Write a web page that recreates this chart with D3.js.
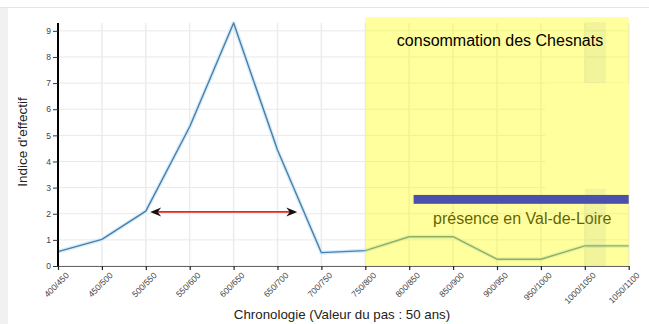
<!DOCTYPE html>
<html><head><meta charset="utf-8">
<script src="https://cdn.jsdelivr.net/npm/d3@7"></script>
<style>
body{margin:0;background:#fff;}
svg{display:block;font-family:"Liberation Sans",Arial,sans-serif;}
</style></head>
<body>
<svg id="chart" width="649" height="324"></svg>
<script>
const categories = ["400/450","450/500","500/550","550/600","600/650","650/700","700/750","750/800","800/850","850/900","900/950","950/1000","1000/1050","1050/1100"];
const values = [0.55,1.02,2.1,5.33,9.3,4.44,0.51,0.59,1.12,1.12,0.26,0.26,0.77,0.77];
const yTicks = [0,1,2,3,4,5,6,7,8,9];
const shadeCats = ["750/800","1050/1100"];           // consommation des Chesnats
const presenceIdx = [8.1, 13];                          // présence en Val-de-Loire (category index)
const presenceVal = [2.38, 2.72];
const arrowIdx = [2.1, 5.45];
const arrowVal = 2.07;
const patchIdx = [11.1, 13], patchVal = [2.72, 7.0];
const darkIdx = [12, 12.48];
const darkVals = [[7.0, 9.33], [0, 2.95]];
const titleText = "consommation des Chesnats";
const presenceText = "présence en Val-de-Loire";
const xLabel = "Chronologie (Valeur du pas : 50 ans)";
const yLabel = "Indice d'effectif";

const svg = d3.select("#chart");
const L = 58, R = 628.7, B = 266, T = 23;
const x = d3.scalePoint().domain(categories).range([L, R]);
const xi = d3.scaleLinear().domain([0, categories.length - 1]).range([L, R]);
const y = d3.scaleLinear().domain([0, d3.max(values)]).range([B, T]);

// page decoration
svg.append("rect").attr("x",0).attr("y",8).attr("width",8).attr("height",316).attr("fill","#f1f1f1");
svg.append("line").attr("x1",0).attr("x2",649).attr("y1",7.5).attr("y2",7.5).attr("stroke","#e4e4e4");

// grid
const grid = svg.append("g");
grid.selectAll("line.h").data(yTicks).join("line")
  .attr("x1", L).attr("x2", R).attr("y1", d => y(d)).attr("y2", d => y(d))
  .attr("stroke", "#e9e9e9").attr("stroke-width", 1);
grid.selectAll("line.v").data(categories).join("line")
  .attr("x1", d => x(d)).attr("x2", d => x(d)).attr("y1", T).attr("y2", B)
  .attr("stroke", "#ececec").attr("stroke-width", 1.5);

// bright patch
svg.append("rect").attr("x", xi(patchIdx[0])).attr("width", xi(patchIdx[1]) - xi(patchIdx[0]))
  .attr("y", y(patchVal[1])).attr("height", y(patchVal[0]) - y(patchVal[1])).attr("fill", "#fff");

// line
const lineGen = d3.line().x((d, i) => x(categories[i])).y(d => y(d));
svg.append("path").datum(values).attr("d", lineGen).attr("fill","none")
  .attr("stroke","#d6ecfa").attr("stroke-width",4).attr("stroke-linejoin","round");
svg.append("path").datum(values).attr("d", lineGen).attr("fill","none")
  .attr("stroke","#4a7fa8").attr("stroke-width",1.4).attr("stroke-linejoin","round");

// presence text (below overlay)
svg.append("text").attr("x", 433).attr("y", 224).attr("font-size", 16).attr("fill", "#000").text(presenceText);

// yellow overlay
svg.append("rect").attr("x", x(shadeCats[0])).attr("width", x(shadeCats[1]) - x(shadeCats[0]))
  .attr("y", T - 6).attr("height", B - T + 6).attr("fill", "#ffff00").attr("opacity", 0.38);

// darker column
darkVals.forEach(v => {
  svg.append("rect").attr("x", xi(darkIdx[0])).attr("width", xi(darkIdx[1]) - xi(darkIdx[0]))
    .attr("y", y(v[1])).attr("height", y(v[0]) - y(v[1])).attr("fill", "#7f9f88").attr("opacity", 0.11);
});

// blue bar
svg.append("rect").attr("x", xi(presenceIdx[0])).attr("width", xi(presenceIdx[1]) - xi(presenceIdx[0]))
  .attr("y", y(presenceVal[1])).attr("height", y(presenceVal[0]) - y(presenceVal[1])).attr("fill", "#4b50ac");

// axes
const yAxis = svg.append("g").attr("transform", `translate(${L},0)`)
  .call(d3.axisLeft(y).tickValues(yTicks).tickSize(5).tickFormat(d3.format("d")));
yAxis.select(".domain").attr("stroke","#000").attr("stroke-width",2).attr("d", `M0,${B}V${T}`);
yAxis.selectAll(".tick line").attr("stroke","#333");
yAxis.selectAll(".tick text").attr("font-size", 8.5).attr("fill","#444").attr("font-family","Liberation Sans, Arial, sans-serif").attr("x",-7);

const xAxis = svg.append("g").attr("transform", `translate(0,${B})`)
  .call(d3.axisBottom(x).tickSize(4).tickSizeOuter(0));
xAxis.select(".domain").attr("stroke","#666").attr("stroke-width",1.2);
xAxis.selectAll(".tick line").attr("stroke","#222").attr("stroke-width",1.2);
xAxis.selectAll(".tick text").attr("font-size", 8.5).attr("fill","#444")
  .attr("font-family","Liberation Sans, Arial, sans-serif")
  .attr("text-anchor","end").attr("y",0).attr("dy",0)
  .attr("transform","translate(11,10) rotate(-45)");

// red arrow
const ax1 = xi(arrowIdx[0]), ax2 = xi(arrowIdx[1]), ay = y(arrowVal);
svg.append("line").attr("x1", ax1 + 6).attr("x2", ax2 - 6).attr("y1", ay).attr("y2", ay)
  .attr("stroke","#e8221c").attr("stroke-width",1.6);
function head(px, dir){
  const p = [[px, ay],[px + dir*11, ay - 4.5],[px + dir*7.5, ay],[px + dir*11, ay + 4.5]];
  svg.append("path").attr("d", "M" + p.map(d => d.join(",")).join("L") + "Z").attr("fill","#111");
}
head(ax1, 1); head(ax2, -1);

// title
svg.append("text").attr("x", 500).attr("y", 46).attr("text-anchor","middle").attr("font-size",16).attr("fill","#000").text(titleText);

// axis labels
svg.append("text").attr("x", 342).attr("y", 319).attr("text-anchor","middle").attr("font-size",13.3).attr("fill","#222").text(xLabel);
svg.append("text").attr("transform","translate(27,142) rotate(-90)").attr("text-anchor","middle").attr("font-size",13.5).attr("fill","#222").text(yLabel);
</script>
</body></html>
